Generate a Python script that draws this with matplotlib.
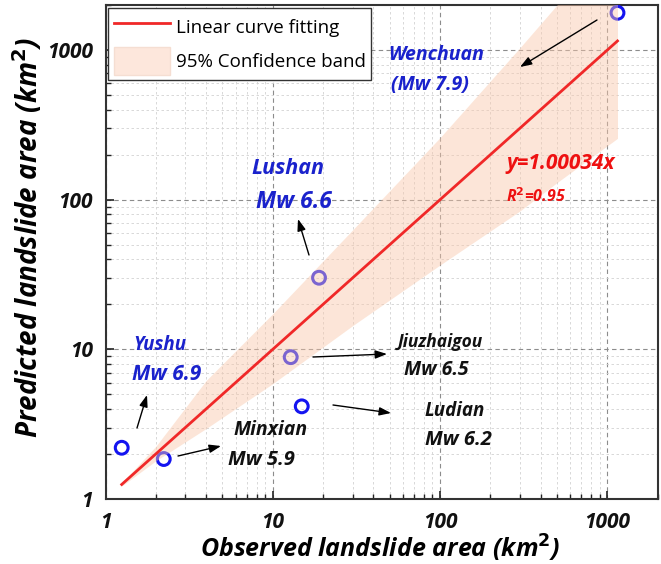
import matplotlib
matplotlib.use("Agg")
import matplotlib.pyplot as plt
from matplotlib.patches import Patch
from matplotlib.lines import Line2D
from matplotlib.ticker import LogLocator, NullFormatter, FixedLocator, FixedFormatter

# ---- data ----
events = ["Yushu", "Minxian", "Jiuzhaigou", "Ludian", "Lushan", "Wenchuan"]
observed = [1.25, 2.23, 12.8, 14.9, 18.9, 1150]
predicted = [2.20, 1.85, 8.87, 4.16, 30.1, 1774]

fit_slope = 1.00034
fit_x = [1.25, 1150]

band_x = [1.25, 2, 4, 10, 30, 100, 300, 500, 1150]
band_lower = [1.22, 1.8, 2.96, 5.9, 14.4, 36.6, 84, 130, 257]
band_upper = [1.28, 2.25, 6.2, 17.3, 62.8, 260, 1035, 2000, 5500]

xticks = [1, 10, 100, 1000]
yticks = [1, 10, 100, 1000]
tick_labels = ["1", "10", "100", "1000"]

FIG_W, FIG_H = 661, 564
fig = plt.figure(figsize=(FIG_W / 100, FIG_H / 100), dpi=100)
ax = fig.add_axes([105.5 / FIG_W, 1 - 499 / FIG_H, (657.7 - 105.5) / FIG_W, (499 - 5) / FIG_H])

FONT = ["Open Sans", "DejaVu Sans"]

ax.set_xscale("log")
ax.set_yscale("log")
ax.set_xlim(1, 2000)
ax.set_ylim(1, 2000)

# points (under the band)
ax.scatter(observed, predicted, s=85, facecolors="none", edgecolors="#1414f0",
           linewidths=2.2, zorder=3)

# confidence band
ax.fill_between(band_x, band_lower, band_upper, color="#f9c7a9", alpha=0.45,
                linewidth=0, zorder=4)

# fit line
fit_y = [fit_slope * v for v in fit_x]
ax.plot(fit_x, fit_y, color="#f02828", lw=2, zorder=5)

# grid
ax.grid(True, which="major", ls=(0, (4, 3)), color="#8c8c8c", lw=0.8)
ax.grid(True, which="minor", ls=(0, (3, 3)), color="#d2d2d2", lw=0.6)
ax.set_axisbelow(True)

# ticks
ax.xaxis.set_major_locator(FixedLocator(xticks))
ax.xaxis.set_major_formatter(FixedFormatter(tick_labels))
ax.yaxis.set_major_locator(FixedLocator(yticks))
ax.yaxis.set_major_formatter(FixedFormatter(tick_labels))
ax.xaxis.set_minor_locator(LogLocator(base=10, subs=range(2, 10)))
ax.yaxis.set_minor_locator(LogLocator(base=10, subs=range(2, 10)))
ax.xaxis.set_minor_formatter(NullFormatter())
ax.yaxis.set_minor_formatter(NullFormatter())
ax.tick_params(which="major", direction="in", length=6, width=1.2, pad=9, colors="#222222")
ax.tick_params(which="minor", direction="in", length=3.5, width=1.0, colors="#222222")
for lab in ax.get_xticklabels() + ax.get_yticklabels():
    lab.set_fontfamily(FONT)
    lab.set_fontweight("bold")
    lab.set_fontstyle("italic")
    lab.set_fontsize(15)
    lab.set_color("#111111")

for sp in ax.spines.values():
    sp.set_linewidth(1.5)
    sp.set_color("#333333")

ax.set_xlabel("Observed landslide area (km$^\\mathbf{2}$)", fontfamily=FONT,
              fontweight="bold", fontstyle="italic", fontsize=18)
ax.set_ylabel("Predicted landslide area (km$^\\mathbf{2}$)", fontfamily=FONT,
              fontweight="bold", fontstyle="italic", fontsize=20)
ax.xaxis.set_label_coords((380 - 105.5) / 552.2, (499 - 548) / 494, transform=ax.transAxes)
ax.yaxis.set_label_coords((28 - 105.5) / 552.2, (499 - 237) / 494, transform=ax.transAxes)
ax.xaxis.label.set_va("center")
ax.yaxis.label.set_va("center")

# legend
handles = [Line2D([], [], color="#f02828", lw=2),
           Patch(facecolor="#fde7dc", edgecolor="#f5ded2")]
leg = ax.legend(handles, ["Linear curve fitting", "95% Confidence band"],
                loc="upper left", bbox_to_anchor=(0.0, 1.0), borderaxespad=0.15,
                prop={"family": FONT, "size": 13.5}, fancybox=False, framealpha=1,
                edgecolor="#333333", handlelength=3.0, handleheight=1.9,
                handletextpad=0.3, borderpad=0.3, labelspacing=0.3)
leg.get_frame().set_linewidth(1.0)
leg.set_zorder(10)


def fp(x, y):
    return (x, FIG_H - y)


blue = "#1a22cc"
label_kw = dict(xycoords="figure pixels", fontfamily=FONT, fontweight="bold",
                fontstyle="italic", va="center", ha="left", zorder=8)

texts = [
    ("Wenchuan", 388, 55, blue, 14), ("(Mw 7.9)", 391, 85, blue, 14),
    ("Lushan", 251, 168, blue, 15.5), ("Mw 6.6", 256, 202, blue, 16.5),
    ("Yushu", 133, 345, blue, 13.5), ("Mw 6.9", 132, 375, blue, 15),
    ("Jiuzhaigou", 398, 342, "#111111", 12.5), ("Mw 6.5", 404, 370, "#111111", 14),
    ("Ludian", 425, 411, "#111111", 13.5), ("Mw 6.2", 425, 440, "#111111", 14.5),
    ("Minxian", 233, 430, "#111111", 14), ("Mw 5.9", 228, 460, "#111111", 14.5),
]
for t, x, y, c, fs in texts:
    ax.annotate(t, xy=fp(x, y), color=c, fontsize=fs, **label_kw)

ax.annotate("y=1.00034x", xy=fp(506, 163), xycoords="figure pixels", color="#ee1111",
            fontfamily=FONT, fontweight="bold", fontstyle="italic", fontsize=15,
            va="center", ha="left", zorder=8)
ax.annotate("R$^\\mathbf{2}$=0.95", xy=fp(506, 197), xycoords="figure pixels", color="#ee1111",
            fontfamily=FONT, fontweight="bold", fontstyle="italic", fontsize=11.5,
            va="center", ha="left", zorder=8)

arrows = [((597, 20), (520, 67)), ((309, 255), (298, 219)), ((137, 428), (147, 395)),
          ((313, 357), (387, 354)), ((333, 405), (391, 413)), ((178, 456), (221, 446))]
for tail, head in arrows:
    ax.annotate("", xy=fp(*head), xytext=fp(*tail), xycoords="figure pixels",
                textcoords="figure pixels", zorder=8,
                arrowprops=dict(arrowstyle="-|>,head_length=0.7,head_width=0.25",
                                color="black", lw=1.0, shrinkA=0, shrinkB=0))

fig.savefig("out.png", dpi=100)
